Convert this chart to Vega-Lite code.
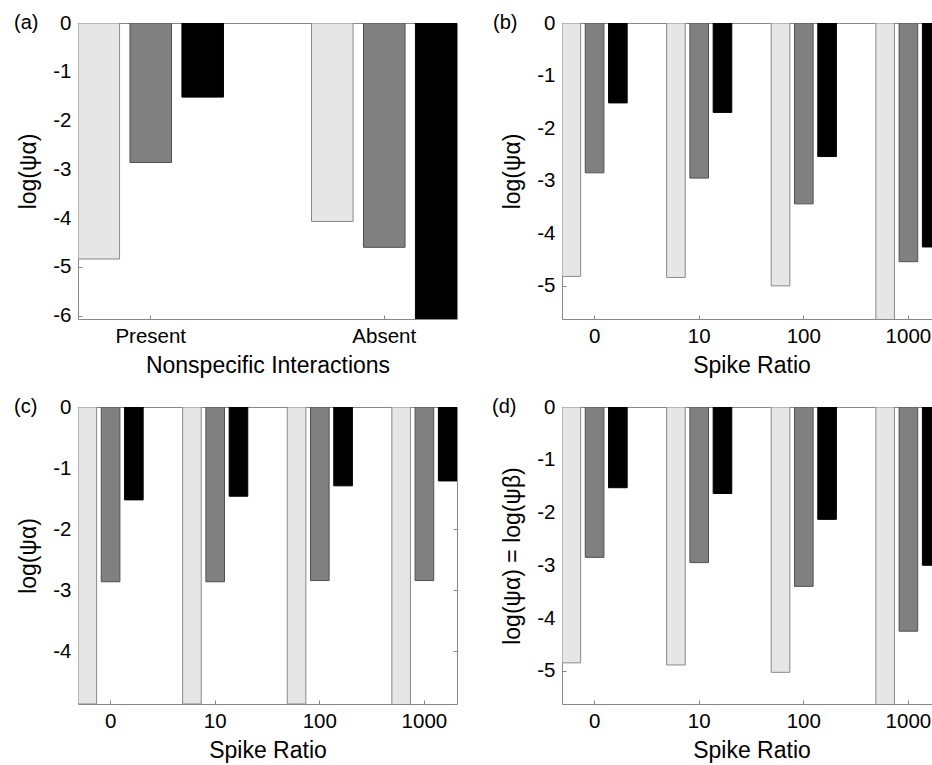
{
  "$schema": "https://vega.github.io/schema/vega-lite/v6.json",
  "padding": {"left": 13, "top": 12, "right": 0, "bottom": 0},
  "background": "white",
  "config": {
    "font": "Liberation Sans",
    "view": {"stroke": "#888888", "strokeWidth": 1},
    "axis": {
      "labelFontSize": 20.5,
      "titleFontSize": 23,
      "labelColor": "#000000",
      "titleColor": "#000000",
      "titleFontWeight": "normal",
      "domain": false,
      "grid": false,
      "tickColor": "#888888",
      "tickSize": -4,
      "labelPadding": 11
    },
    "title": {"fontSize": 20, "fontWeight": "normal", "anchor": "start", "frame": "group", "color": "#000000"}
  },
  "datasets": {
    "a": [
      {"group": "Present", "series": "s1", "value": -4.84},
      {"group": "Present", "series": "s2", "value": -2.86},
      {"group": "Present", "series": "s3", "value": -1.52},
      {"group": "Absent", "series": "s1", "value": -4.07},
      {"group": "Absent", "series": "s2", "value": -4.6},
      {"group": "Absent", "series": "s3", "value": -6.5}
    ],
    "b": [
      {"group": "0", "series": "s1", "value": -4.82},
      {"group": "0", "series": "s2", "value": -2.85},
      {"group": "0", "series": "s3", "value": -1.52},
      {"group": "10", "series": "s1", "value": -4.84},
      {"group": "10", "series": "s2", "value": -2.95},
      {"group": "10", "series": "s3", "value": -1.7},
      {"group": "100", "series": "s1", "value": -5.0},
      {"group": "100", "series": "s2", "value": -3.44},
      {"group": "100", "series": "s3", "value": -2.54},
      {"group": "1000", "series": "s1", "value": -6.2},
      {"group": "1000", "series": "s2", "value": -4.54},
      {"group": "1000", "series": "s3", "value": -4.26}
    ],
    "c": [
      {"group": "0", "series": "s1", "value": -4.86},
      {"group": "0", "series": "s2", "value": -2.86},
      {"group": "0", "series": "s3", "value": -1.52},
      {"group": "10", "series": "s1", "value": -4.86},
      {"group": "10", "series": "s2", "value": -2.86},
      {"group": "10", "series": "s3", "value": -1.46},
      {"group": "100", "series": "s1", "value": -4.86},
      {"group": "100", "series": "s2", "value": -2.84},
      {"group": "100", "series": "s3", "value": -1.29},
      {"group": "1000", "series": "s1", "value": -5.5},
      {"group": "1000", "series": "s2", "value": -2.84},
      {"group": "1000", "series": "s3", "value": -1.21}
    ],
    "d": [
      {"group": "0", "series": "s1", "value": -4.85},
      {"group": "0", "series": "s2", "value": -2.85},
      {"group": "0", "series": "s3", "value": -1.53},
      {"group": "10", "series": "s1", "value": -4.89},
      {"group": "10", "series": "s2", "value": -2.95},
      {"group": "10", "series": "s3", "value": -1.64},
      {"group": "100", "series": "s1", "value": -5.03},
      {"group": "100", "series": "s2", "value": -3.4},
      {"group": "100", "series": "s3", "value": -2.13},
      {"group": "1000", "series": "s1", "value": -6.2},
      {"group": "1000", "series": "s2", "value": -4.25},
      {"group": "1000", "series": "s3", "value": -3.0}
    ]
  },
  "columns": 2,
  "spacing": {"row": 88, "column": 105},
  "bounds": "flush",
  "resolve": {"scale": {"x": "independent", "xOffset": "independent", "y": "independent"}},
  "concat": [
    {
      "width": 379, "height": 296,
      "data": {"name": "a"},
      "title": {"text": "(a)", "dx": -64, "dy": 24},
      "mark": {"type": "bar", "clip": true, "strokeWidth": 1},
      "encoding": {
        "x": {"field": "group", "type": "nominal", "sort": null, "scale": {"paddingInner": 0.377, "paddingOuter": 0}, "axis": {"title": "Nonspecific Interactions", "labelAngle": 0, "titlePadding": 8}},
        "xOffset": {"field": "series", "type": "nominal", "sort": null, "scale": {"paddingInner": 0.2, "paddingOuter": 0}},
        "y": {"field": "value", "type": "quantitative", "scale": {"domain": [-6.07, 0], "nice": false, "zero": false}, "axis": {"title": "log(ψα)", "values": [0, -1, -2, -3, -4, -5, -6], "labelExpr": "'' + datum.value", "titlePadding": 12}},
        "y2": {"datum": 0},
        "fill": {"field": "series", "type": "nominal", "scale": {"domain": ["s1", "s2", "s3"], "range": ["#e6e6e6", "#808080", "#000000"]}, "legend": null},
        "stroke": {"field": "series", "type": "nominal", "scale": {"domain": ["s1", "s2", "s3"], "range": ["#8a8a8a", "#505050", "#000000"]}, "legend": null}
      }
    },
    {
      "width": 379, "height": 296,
      "data": {"name": "b"},
      "title": {"text": "(b)", "dx": -69, "dy": 24},
      "mark": {"type": "bar", "clip": true, "strokeWidth": 1},
      "encoding": {
        "x": {"field": "group", "type": "nominal", "sort": null, "scale": {"paddingInner": 0.377, "paddingOuter": 0}, "axis": {"title": "Spike Ratio", "labelAngle": 0, "titlePadding": 8}},
        "xOffset": {"field": "series", "type": "nominal", "sort": null, "scale": {"paddingInner": 0.2, "paddingOuter": 0}},
        "y": {"field": "value", "type": "quantitative", "scale": {"domain": [-5.63, 0], "nice": false, "zero": false}, "axis": {"title": "log(ψα)", "values": [0, -1, -2, -3, -4, -5], "labelExpr": "'' + datum.value", "titlePadding": 12}},
        "y2": {"datum": 0},
        "fill": {"field": "series", "type": "nominal", "scale": {"domain": ["s1", "s2", "s3"], "range": ["#e6e6e6", "#808080", "#000000"]}, "legend": null},
        "stroke": {"field": "series", "type": "nominal", "scale": {"domain": ["s1", "s2", "s3"], "range": ["#8a8a8a", "#505050", "#000000"]}, "legend": null}
      }
    },
    {
      "width": 379, "height": 297,
      "data": {"name": "c"},
      "title": {"text": "(c)", "dx": -64, "dy": 24},
      "layer": [
        {
          "mark": {"type": "bar", "clip": true, "strokeWidth": 1},
          "encoding": {
            "x": {"field": "group", "type": "nominal", "sort": null, "scale": {"paddingInner": 0.377, "paddingOuter": 0}, "axis": {"title": "Spike Ratio", "labelAngle": 0, "titlePadding": 8}},
            "xOffset": {"field": "series", "type": "nominal", "sort": null, "scale": {"paddingInner": 0.2, "paddingOuter": 0}},
            "y": {"field": "value", "type": "quantitative", "scale": {"domain": [-4.86, 0], "nice": false, "zero": false}, "axis": {"title": "log(ψα)", "values": [0, -1, -2, -3, -4], "labelExpr": "'' + datum.value", "titlePadding": 12}},
            "y2": {"datum": 0},
            "fill": {"field": "series", "type": "nominal", "scale": {"domain": ["s1", "s2", "s3"], "range": ["#e6e6e6", "#808080", "#000000"]}, "legend": null},
            "stroke": {"field": "series", "type": "nominal", "scale": {"domain": ["s1", "s2", "s3"], "range": ["#8a8a8a", "#505050", "#000000"]}, "legend": null}
          }
        },
        {
          "mark": {"type": "rule", "opacity": 0},
          "encoding": {
            "y": {"datum": 0, "type": "quantitative", "scale": {"domain": [-4.86, 0], "nice": false, "zero": false}, "axis": {"orient": "right", "title": null, "labels": false, "values": [0, -1, -2, -3, -4]}}
          }
        }
      ],
      "resolve": {"axis": {"y": "independent"}}
    },
    {
      "width": 379, "height": 297,
      "data": {"name": "d"},
      "title": {"text": "(d)", "dx": -70, "dy": 24},
      "mark": {"type": "bar", "clip": true, "strokeWidth": 1},
      "encoding": {
        "x": {"field": "group", "type": "nominal", "sort": null, "scale": {"paddingInner": 0.377, "paddingOuter": 0}, "axis": {"title": "Spike Ratio", "labelAngle": 0, "titlePadding": 8}},
        "xOffset": {"field": "series", "type": "nominal", "sort": null, "scale": {"paddingInner": 0.2, "paddingOuter": 0}},
        "y": {"field": "value", "type": "quantitative", "scale": {"domain": [-5.63, 0], "nice": false, "zero": false}, "axis": {"title": "log(ψα) = log(ψβ)", "values": [0, -1, -2, -3, -4, -5], "labelExpr": "'' + datum.value", "titlePadding": 12}},
        "y2": {"datum": 0},
        "fill": {"field": "series", "type": "nominal", "scale": {"domain": ["s1", "s2", "s3"], "range": ["#e6e6e6", "#808080", "#000000"]}, "legend": null},
        "stroke": {"field": "series", "type": "nominal", "scale": {"domain": ["s1", "s2", "s3"], "range": ["#8a8a8a", "#505050", "#000000"]}, "legend": null}
      }
    }
  ]
}
